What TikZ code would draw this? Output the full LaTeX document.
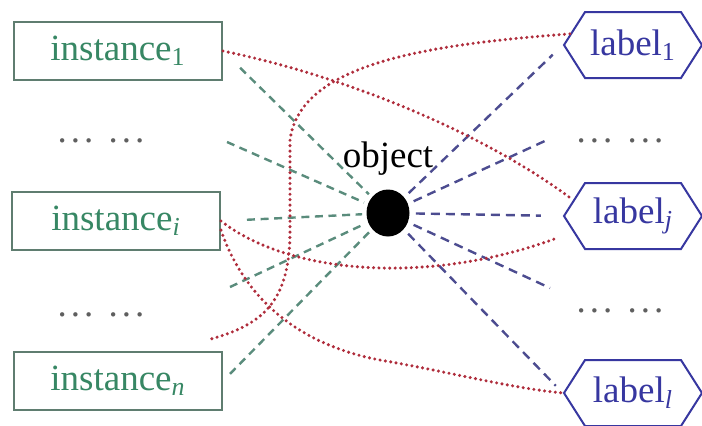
\documentclass[tikz,border=0pt]{standalone}
\usepackage{fontspec}
\setmainfont{Liberation Serif}
\usetikzlibrary{shapes.geometric,shapes.symbols}

\definecolor{instgreen}{RGB}{55,135,100}
\definecolor{boxgray}{RGB}{95,125,112}
\definecolor{labblue}{RGB}{55,55,160}
\definecolor{dotred}{RGB}{175,45,60}
\definecolor{gdashc}{RGB}{90,140,124}
\definecolor{bdashc}{RGB}{76,76,144}
\definecolor{dotgray}{RGB}{95,95,95}

\newcommand{\gapdots}{.\kern2pt.\kern2pt.\kern7.7pt.\kern2pt.\kern2pt.}

\begin{document}
\begin{tikzpicture}[x=0.5pt,y=-0.5pt,font=\fontsize{18.5}{22}\selectfont,
  inst/.style={draw=boxgray,line width=1pt,text=instgreen,minimum width=104pt,minimum height=29pt,inner sep=0pt},
  lab/.style={signal,signal to=west and east,signal pointer angle=115,draw=labblue,line width=1pt,text=labblue,minimum width=69pt,minimum height=33pt,inner sep=0pt},
  ell/.style={text=dotgray,anchor=base},
  gline/.style={draw=gdashc,line width=1.2pt,dash pattern=on 4pt off 2.8pt},
  bline/.style={draw=bdashc,line width=1.2pt,dash pattern=on 4.5pt off 3pt},
  rline/.style={draw=dotred,line width=1.7pt,line cap=round,dash pattern=on 0pt off 2.7pt}]
\useasboundingbox (0,0) rectangle (702,425);
% left column
\node[inst] (inst1) at (118,51) {instance\textsubscript{1}};
\node[inst] (insti) at (116,221) {instance\textsubscript{\textit{i}}};
\node[inst] (instn) at (118,381) {instance\textsubscript{\textit{n}}};
\node[ell] (dotsl1) at (101,142.5) {\gapdots};
\node[ell] (dotsl2) at (101,316) {\gapdots};
% right column
\node[lab] (lab1) at (633,45) {label\textsubscript{1}};
\node[lab] (labj) at (633,216) {label\textsubscript{\textit{j}}};
\node[lab] (labl) at (633,393) {label\textsubscript{\textit{l}}};
\node[ell] (dotsr1) at (620,142) {\gapdots};
\node[ell] (dotsr2) at (620,312) {\gapdots};
% the object
\node[ellipse,fill=black,minimum width=21.5pt,minimum height=23.5pt,inner sep=0pt] (obj) at (388,213) {};
\node[anchor=base] (objtxt) at (388,167) {object};
\coordinate (g2) at (227,142);
\coordinate (g4) at (230,287);
\coordinate (b2) at (547,140);
\coordinate (b4) at (550,288);
\coordinate (r2) at (207,340);
\foreach \s/\sh in {inst1.east/12pt,g2/0pt,insti.east/13pt,g4/0pt,instn.east/5pt}
  \draw[gline,shorten <=\sh,shorten >=2pt] (\s) -- (obj);
\foreach \t/\sh in {lab1.west/7pt,b2/0pt,labj.west/11pt,b4/0pt,labl.west/5pt}
  \draw[bline,shorten <=3pt,shorten >=\sh] (obj) -- (\t);
% dotted links
\draw[rline] (inst1.east) .. controls (340,75) and (480,130) .. (labj.165);
\draw[rline] (lab1.170) .. controls (420,45) and (300,65) .. (290,140) -- (290,230)
  .. controls (290,300) and (265,325) .. (r2);
\draw[rline,shorten >=9pt] (insti.east) .. controls (290,275) and (430,285) .. (labj.195);
\draw[rline] (insti.-5) .. controls (245,300) and (300,345) .. (380,360)
  .. controls (450,372) and (510,388) .. (labl.west);
\end{tikzpicture}
\end{document}
